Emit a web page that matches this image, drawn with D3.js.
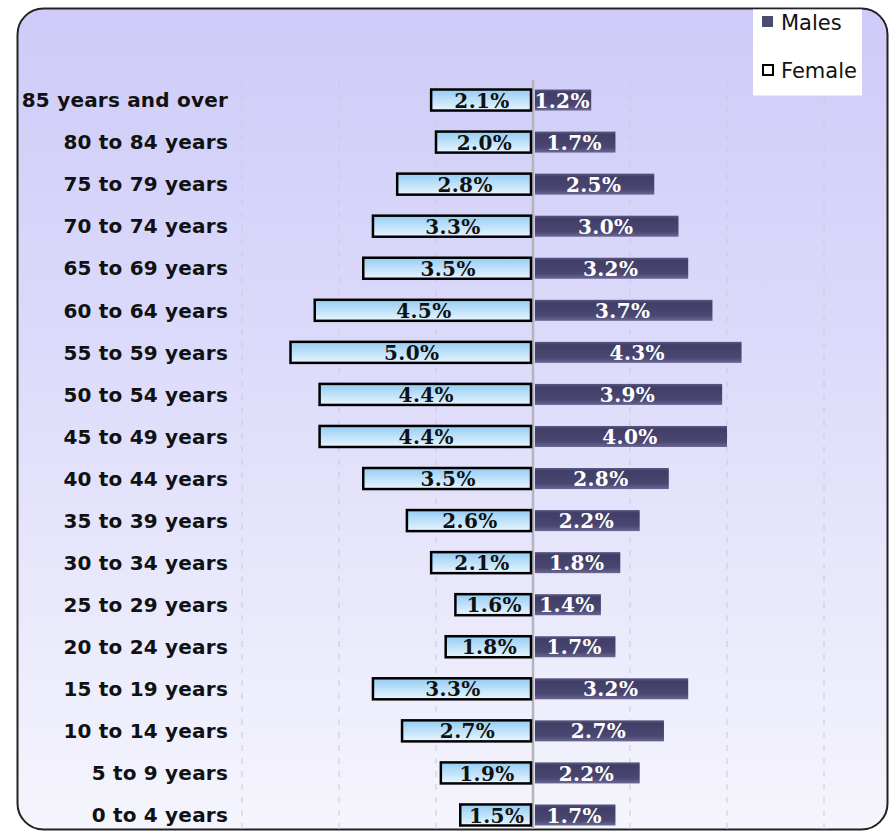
<!DOCTYPE html>
<html>
<head>
<meta charset="utf-8">
<script src="https://cdn.jsdelivr.net/npm/d3@7"></script>
<style>
  body { margin: 0; background: #fff; }
</style>
</head>
<body>
<div id="chart"></div>
<script>
// Age groups, top to bottom
const ageGroups = [
  "85 years and over", "80 to 84 years", "75 to 79 years", "70 to 74 years",
  "65 to 69 years", "60 to 64 years", "55 to 59 years", "50 to 54 years",
  "45 to 49 years", "40 to 44 years", "35 to 39 years", "30 to 34 years",
  "25 to 29 years", "20 to 24 years", "15 to 19 years", "10 to 14 years",
  "5 to 9 years", "0 to 4 years"
];
const femaleValues = [2.1, 2.0, 2.8, 3.3, 3.5, 4.5, 5.0, 4.4, 4.4, 3.5, 2.6, 2.1, 1.6, 1.8, 3.3, 2.7, 1.9, 1.5];
const maleValues   = [1.2, 1.7, 2.5, 3.0, 3.2, 3.7, 4.3, 3.9, 4.0, 2.8, 2.2, 1.8, 1.4, 1.7, 3.2, 2.7, 2.2, 1.7];
const gridTicks = [-6, -4, -2, 2, 4, 6];
const legendLabels = ["Males", "Female"];

const W = 892, H = 831;

const svg = d3.select("#chart")
  .append("svg")
  .attr("width", W)
  .attr("height", H);

const defs = svg.append("defs");

// panel background gradient
const bg = defs.append("linearGradient").attr("id", "bg")
  .attr("x1", 0).attr("y1", 0).attr("x2", 0).attr("y2", 1);
bg.append("stop").attr("offset", "0%").attr("stop-color", "#cecbf8");
bg.append("stop").attr("offset", "40%").attr("stop-color", "#dcdafa");
bg.append("stop").attr("offset", "100%").attr("stop-color", "#f5f5fd");

const fGrad = defs.append("linearGradient").attr("id", "fgrad")
  .attr("x1", 0).attr("y1", 0).attr("x2", 0).attr("y2", 1);
fGrad.append("stop").attr("offset", "0%").attr("stop-color", "#94ccf4");
fGrad.append("stop").attr("offset", "100%").attr("stop-color", "#e8f6ff");

const mGrad = defs.append("linearGradient").attr("id", "mgrad")
  .attr("x1", 0).attr("y1", 0).attr("x2", 0).attr("y2", 1);
mGrad.append("stop").attr("offset", "0%").attr("stop-color", "#5a5880");
mGrad.append("stop").attr("offset", "15%").attr("stop-color", "#403e66");
mGrad.append("stop").attr("offset", "75%").attr("stop-color", "#4a4872");
mGrad.append("stop").attr("offset", "100%").attr("stop-color", "#6a6892");

// rounded panel
svg.append("rect")
  .attr("x", 17.5).attr("y", 8.5)
  .attr("width", 870).attr("height", 821)
  .attr("rx", 26)
  .attr("fill", "url(#bg)")
  .attr("stroke", "#222")
  .attr("stroke-width", 2);

// scales
const x = d3.scaleLinear()
  .domain([-6, 6])
  .range([242, 824]);

const y = d3.scaleBand()
  .domain(ageGroups)
  .range([79, 836])
  .paddingInner(0.5)
  .paddingOuter(0.25);

// dashed gridlines
svg.selectAll(".grid")
  .data(gridTicks)
  .join("line")
  .attr("class", "grid")
  .attr("x1", d => x(d)).attr("x2", d => x(d))
  .attr("y1", 82).attr("y2", 829)
  .attr("stroke", "#cac8dc")
  .attr("stroke-width", 1)
  .attr("stroke-dasharray", "6,7");

// center axis
svg.append("line")
  .attr("x1", x(0)).attr("x2", x(0))
  .attr("y1", 80).attr("y2", 829)
  .attr("stroke", "#b4b4bc")
  .attr("stroke-width", 2.5);

const rows = ageGroups.map((g, i) => ({ group: g, female: femaleValues[i], male: maleValues[i] }));

// female bars (left)
svg.selectAll(".female")
  .data(rows)
  .join("rect")
  .attr("class", "female")
  .attr("x", d => x(-d.female))
  .attr("y", d => y(d.group))
  .attr("width", d => x(0) - 2 - x(-d.female))
  .attr("height", y.bandwidth())
  .attr("fill", "url(#fgrad)")
  .attr("stroke", "#000")
  .attr("stroke-width", 2.5);

// male bars (right)
svg.selectAll(".male")
  .data(rows)
  .join("rect")
  .attr("class", "male")
  .attr("x", x(0) + 2)
  .attr("y", d => y(d.group))
  .attr("width", d => x(d.male) - x(0) - 2)
  .attr("height", y.bandwidth())
  .attr("fill", "url(#mgrad)");

// value labels
const valueFont = "'DejaVu Serif', serif";
svg.selectAll(".flabel")
  .data(rows)
  .join("text")
  .attr("class", "flabel")
  .attr("x", d => (x(-d.female) + x(0)) / 2)
  .attr("y", d => y(d.group) + y.bandwidth() / 2)
  .attr("dy", "0.38em")
  .attr("text-anchor", "middle")
  .style("font-family", valueFont)
  .style("font-weight", "bold")
  .style("font-size", "20px")
  .style("letter-spacing", "0.4px")
  .attr("fill", "#111")
  .text(d => d.female.toFixed(1) + "%");

svg.selectAll(".mlabel")
  .data(rows)
  .join("text")
  .attr("class", "mlabel")
  .attr("x", d => (x(0) + x(d.male)) / 2)
  .attr("y", d => y(d.group) + y.bandwidth() / 2)
  .attr("dy", "0.38em")
  .attr("text-anchor", "middle")
  .style("font-family", valueFont)
  .style("font-weight", "bold")
  .style("font-size", "20px")
  .style("letter-spacing", "0.4px")
  .attr("fill", "#fff")
  .text(d => d.male.toFixed(1) + "%");

// category labels
svg.append("g")
  .attr("transform", "translate(228,0)")
  .call(d3.axisLeft(y).tickSize(0).tickPadding(0))
  .call(g => g.select(".domain").remove())
  .selectAll(".tick text")
  .attr("dy", "0.36em")
  .style("font-family", "'DejaVu Sans', Verdana, sans-serif")
  .style("font-weight", "bold")
  .style("font-size", "20px")
  .style("letter-spacing", "0.2px")
  .attr("fill", "#111");

// legend
const legend = svg.append("g");
legend.append("rect")
  .attr("x", 753).attr("y", 9.5)
  .attr("width", 109).attr("height", 86)
  .attr("fill", "#fff");

legend.append("rect")
  .attr("x", 762).attr("y", 16)
  .attr("width", 11).attr("height", 11)
  .attr("fill", "#4b4a72");
legend.append("rect")
  .attr("x", 763).attr("y", 65)
  .attr("width", 10).attr("height", 10)
  .attr("fill", "#fff")
  .attr("stroke", "#000")
  .attr("stroke-width", 2);

legend.selectAll(".ltext")
  .data(legendLabels)
  .join("text")
  .attr("class", "ltext")
  .attr("x", 781)
  .attr("y", (d, i) => 30 + i * 48)
  .style("font-family", "'DejaVu Sans', Verdana, sans-serif")
  .style("font-size", "21px")
  .attr("fill", "#111")
  .text(d => d);
</script>
</body>
</html>
